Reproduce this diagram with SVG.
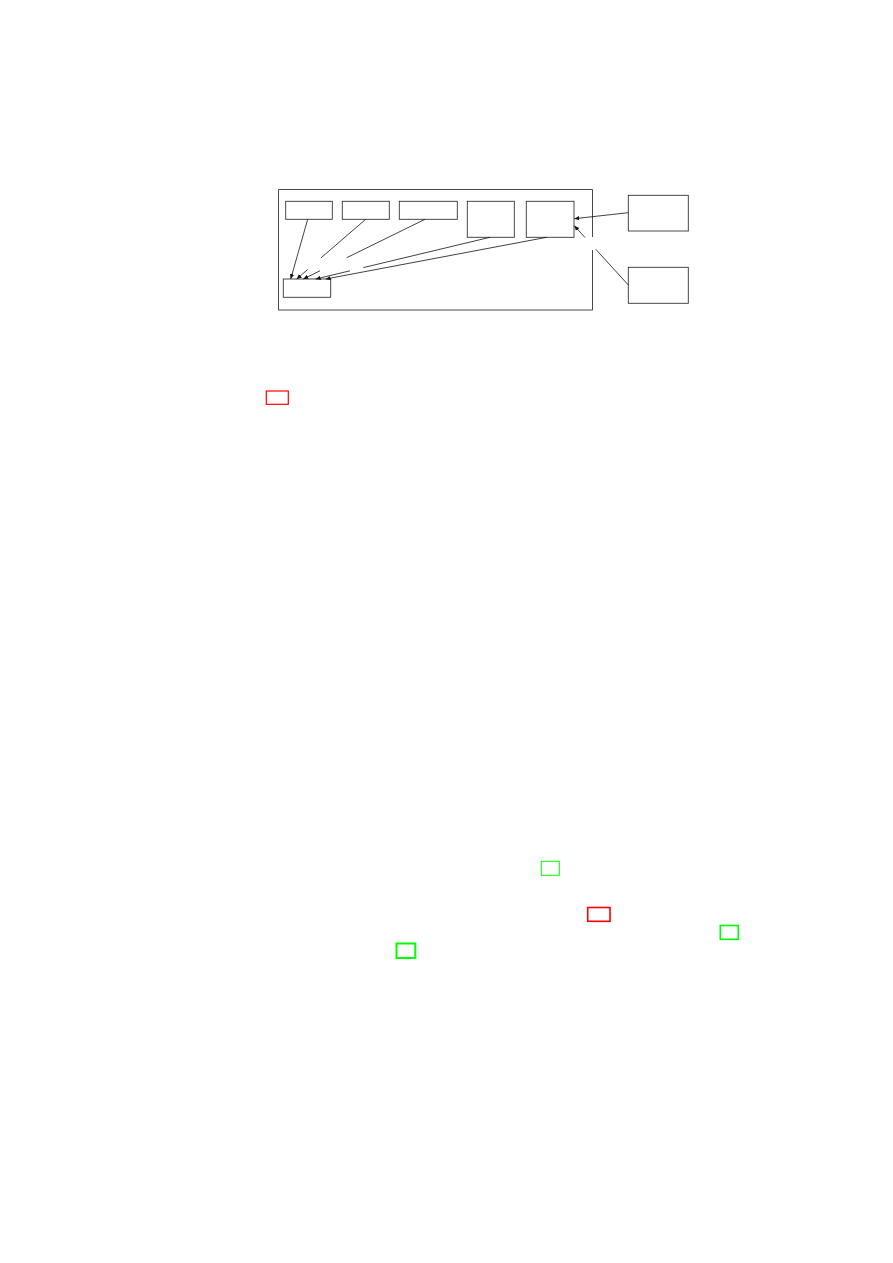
<svg xmlns="http://www.w3.org/2000/svg" width="893" height="1263" viewBox="0 0 893 1263">
<style>
.box{fill:none;stroke:#333;stroke-width:0.9}
.edge{fill:none;stroke:#111;stroke-width:0.8}
.red{fill:none;stroke:#ff0000}
.green{fill:none;stroke:#00ff00}
</style>
<defs>
<marker id="arr" markerUnits="userSpaceOnUse" markerWidth="6" markerHeight="6" viewBox="0 0 6 6" refX="5" refY="3" orient="auto">
<path d="M0,0.8 L5,3 L0,5.2 Z" fill="#111"/>
</marker>
</defs>
<rect width="893" height="1263" fill="#fff"/>
<g id="container">
<path class="box" d="M592.5,237 L592.5,189.5 L278.5,189.5 L278.5,310 L592.5,310 L592.5,250"/>
</g>
<g id="n1"><rect class="box" x="285.7" y="201.3" width="46.6" height="18"/></g>
<g id="n2"><rect class="box" x="342.3" y="201.3" width="47" height="18"/></g>
<g id="n3"><rect class="box" x="399.3" y="201.3" width="58" height="18"/></g>
<g id="n4"><rect class="box" x="467.3" y="201.3" width="47" height="36"/></g>
<g id="n5"><rect class="box" x="526.3" y="201.3" width="47.7" height="36"/></g>
<g id="target"><rect class="box" x="283.3" y="279" width="47.4" height="18.3"/></g>
<g id="ext1"><rect class="box" x="628.3" y="195.3" width="60" height="35.7"/></g>
<g id="ext2"><rect class="box" x="628.3" y="267.3" width="60" height="36"/></g>
<g id="connectors">
<path class="edge" d="M307.7,219.3 L290.7,279" marker-end="url(#arr)"/>
<path class="edge" d="M365.7,219.3 L321,257.9"/>
<path class="edge" d="M307.7,269.5 L296.7,279" marker-end="url(#arr)"/>
<path class="edge" d="M425,219.3 L346.7,257.7"/>
<path class="edge" d="M320,270.8 L303.3,279" marker-end="url(#arr)"/>
<path class="edge" d="M490,237.3 L363.3,267.6"/>
<path class="edge" d="M350,270.8 L315.7,279" marker-end="url(#arr)"/>
<path class="edge" d="M546.7,237.3 L325.7,279" marker-end="url(#arr)"/>
<path class="edge" d="M628.3,212.7 L574.3,218.7" marker-end="url(#arr)"/>
<path class="edge" d="M628.3,285 L595.7,249.2"/>
<path class="edge" d="M585,237.5 L574.3,225.7" marker-end="url(#arr)"/>
</g>
<g id="marks">
<rect class="red" stroke-width="1.2" x="266.3" y="391" width="22" height="13.3"/>
<rect class="green" stroke-width="1" x="541.3" y="861.3" width="18" height="14"/>
<rect class="red" stroke-width="1.6" x="587.7" y="907.5" width="22.3" height="13.8"/>
<rect class="green" stroke-width="1.6" x="720.3" y="925.5" width="18" height="13.8"/>
<rect class="green" stroke-width="2" x="396.5" y="943.5" width="18.8" height="14.5"/>
</g>
</svg>
